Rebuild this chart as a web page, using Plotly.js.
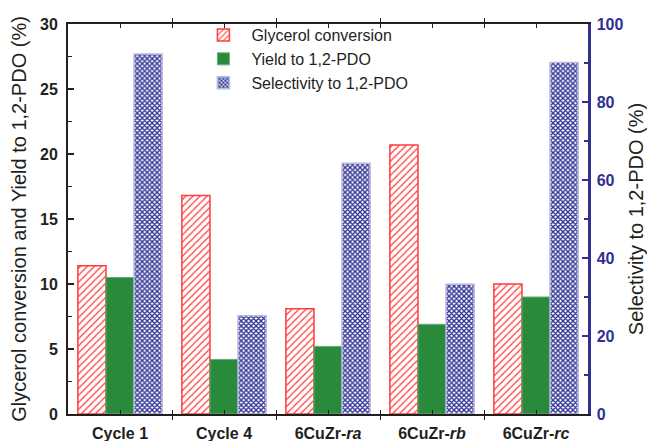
<!DOCTYPE html>
<html>
<head>
<meta charset="utf-8">
<script src="https://cdn.plot.ly/plotly-3.0.1.min.js"></script>
<style>html,body{margin:0;padding:0;background:#fff;}#chart{width:647px;height:441px;}</style>
</head>
<body>
<div id="chart"></div>
<script>
const categories = ["Cycle 1", "Cycle 4", "6CuZr-<i>ra</i>", "6CuZr-<i>rb</i>", "6CuZr-<i>rc</i>"];
const glycerolConversion = [11.4, 16.8, 8.1, 20.7, 10.0];
const yieldPDO = [10.5, 4.2, 5.2, 6.9, 9.0];
const selectivityPDO = [92.3, 25.2, 64.3, 33.3, 90.1];

const navy = "#2e3192";
const red = "#ff3b3b";
const green = "#2a8a3c";
const ink = "#231f20";
const fontFam = "Liberation Sans, Arial, sans-serif";

const traces = [
  {
    type: "bar", name: "Glycerol conversion", x: categories, y: glycerolConversion,
    width: 0.27, offset: -0.405, xaxis: "x", yaxis: "y",
    marker: {color: "#ffffff", line: {color: red, width: 1.5},
      pattern: {shape: "/", fgcolor: red, bgcolor: "#ffffff", size: 5, solidity: 0.25, fillmode: "replace"}}
  },
  {
    type: "bar", name: "Yield to 1,2-PDO", x: categories, y: yieldPDO,
    width: 0.27, offset: -0.135, xaxis: "x", yaxis: "y",
    marker: {color: green, line: {color: "#6aab74", width: 1}}
  },
  {
    type: "bar", name: "Selectivity to 1,2-PDO", x: categories, y: selectivityPDO,
    width: 0.27, offset: 0.135, xaxis: "x", yaxis: "y2",
    marker: {color: "#ffffff", line: {color: "#b8b8e0", width: 1.5},
      pattern: {shape: "x", fgcolor: navy, bgcolor: "#ffffff", size: 3.5, solidity: 0.6, fillmode: "replace"}}
  },
  {
    type: "scatter", x: [0, 4], y: [0, 0], xaxis: "x2", yaxis: "y",
    mode: "markers", marker: {opacity: 0}, showlegend: false, hoverinfo: "skip"
  }
];

const layout = {
  width: 647, height: 441,
  margin: {l: 68, r: 59, t: 24, b: 27},
  paper_bgcolor: "#ffffff", plot_bgcolor: "#ffffff",
  font: {family: fontFam, color: ink},
  showlegend: true,
  legend: {x: 0.245, y: 1.015, xanchor: "left", yanchor: "top", bgcolor: "rgba(0,0,0,0)",
    font: {size: 16, color: ink}, itemwidth: 46, tracegroupgap: 0},
  xaxis: {
    type: "category", range: [-0.5, 4.5], showgrid: false, zeroline: false,
    showline: true, linecolor: ink, linewidth: 2, mirror: "allticks",
    ticks: "inside", tickson: "boundaries", ticklen: 4, tickwidth: 1, tickcolor: ink,
    ticklabelstandoff: 4,
    tickfont: {size: 16, weight: "bold", color: ink}
  },
  xaxis2: {
    type: "linear", overlaying: "x", anchor: "y", side: "bottom", range: [-0.5, 4.5],
    tickmode: "array", tickvals: [0, 1, 2, 3, 4],
    showgrid: false, zeroline: false, showline: true, linecolor: ink, linewidth: 2,
    ticks: "inside", ticklen: 4, tickwidth: 1, tickcolor: ink, mirror: "allticks",
    showticklabels: false
  },
  yaxis: {
    range: [0, 30], dtick: 5, showgrid: false, zeroline: false,
    showline: true, linecolor: ink, linewidth: 2,
    ticks: "inside", ticklen: 6, tickwidth: 1.5, tickcolor: ink,
    minor: {dtick: 2.5, ticks: "inside", ticklen: 4, tickcolor: ink, showgrid: false},
    ticklabelstandoff: 5,
    tickfont: {size: 16, weight: "bold", color: ink},
    title: {text: "Glycerol conversion and Yield to 1,2-PDO (%)", font: {size: 20, color: ink}, standoff: 8}
  },
  yaxis2: {
    overlaying: "y", side: "right", range: [0, 100], dtick: 20, showgrid: false, zeroline: false,
    showline: true, linecolor: navy, linewidth: 2.5,
    ticks: "inside", ticklen: 6, tickwidth: 1.5, tickcolor: navy,
    minor: {dtick: 10, ticks: "inside", ticklen: 4, tickcolor: navy, showgrid: false},
    ticklabelstandoff: 3,
    tickfont: {size: 16, weight: "bold", color: navy},
    title: {text: "Selectivity to 1,2-PDO (%)", font: {size: 20, color: ink}, standoff: 12}
  }
};

Plotly.newPlot("chart", traces, layout, {displayModeBar: false, staticPlot: true});
</script>
</body>
</html>
